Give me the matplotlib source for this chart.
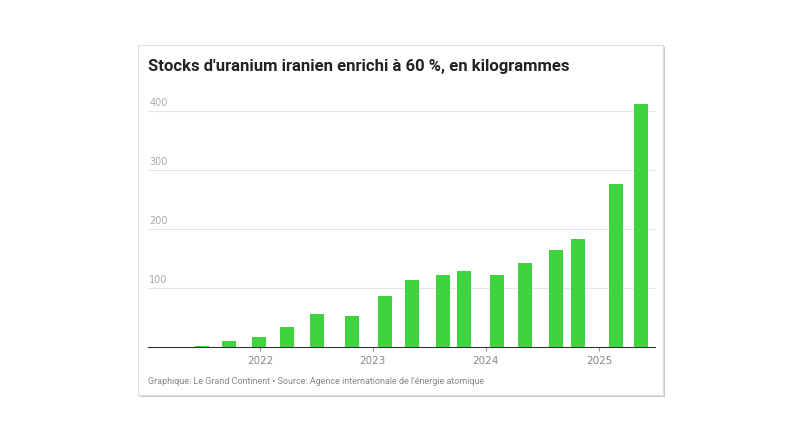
import matplotlib.pyplot as plt
import matplotlib.transforms as mt
from matplotlib.patches import FancyBboxPatch
import pandas as pd

dates = ["2021-06-28", "2021-09-24", "2021-12-28", "2022-03-30", "2022-07-05",
         "2022-10-24", "2023-02-10", "2023-05-08", "2023-08-15", "2023-10-24",
         "2024-02-06", "2024-05-08", "2024-08-15", "2024-10-24", "2025-02-24",
         "2025-05-17"]
stocks = [2, 10, 17, 34, 56, 52, 86, 113, 122, 129, 122, 142, 164, 183, 276, 412]
year_ticks = ["2022", "2023", "2024", "2025"]

x = pd.to_datetime(dates)

fig = plt.figure(figsize=(8, 4.45), dpi=100)
fig.patch.set_facecolor("white")

# card with shadow
shadow = FancyBboxPatch((140 / 800, 1 - 397 / 445), 525 / 800, 350 / 445,
                        boxstyle="square,pad=0", transform=fig.transFigure,
                        facecolor="#c8c8c8", edgecolor="none", zorder=0)
card = FancyBboxPatch((138 / 800, 1 - 395 / 445), 525 / 800, 350 / 445,
                      boxstyle="square,pad=0", transform=fig.transFigure,
                      facecolor="white", edgecolor="#dddddd", linewidth=0.8, zorder=1)
fig.patches.extend([shadow, card])

ax = fig.add_axes([148 / 800, 1 - 347 / 445, 507 / 800, 258 / 445])
ax.set_facecolor("none")
ax.set_zorder(2)
ax.bar(x, stocks, width=45, color="#3fd43f", zorder=3)

ax.set_xlim(pd.Timestamp("2021-01-04"), pd.Timestamp("2025-07-01"))
ax.set_ylim(0, 437)
ax.set_yticks([100, 200, 300, 400])
ax.set_xticks(pd.to_datetime([y + "-01-01" for y in year_ticks]))
ax.set_xticklabels(year_ticks)
ax.grid(axis="y", color="#e6e6e6", linewidth=0.8, zorder=0)
for s in ["top", "right", "left"]:
    ax.spines[s].set_visible(False)
ax.spines["bottom"].set_color("#333333")
ax.tick_params(axis="y", length=0, labelsize=7, labelcolor="#aaaaaa", pad=-1, direction="in")
for lbl in ax.get_yticklabels():
    lbl.set_horizontalalignment("left")
    lbl.set_verticalalignment("bottom")
    lbl.set_transform(lbl.get_transform() + mt.ScaledTranslation(0.0, 0.03, fig.dpi_scale_trans))
ax.tick_params(axis="x", length=3, color="#999999", labelsize=7.5, labelcolor="#888888")

fig.text(148 / 800, 1 - 66 / 445, "Stocks d'uranium iranien enrichi à 60 %, en kilogrammes",
         fontsize=12, fontweight="bold", color="#222222", family="Roboto",
         va="center", zorder=5)
fig.text(148 / 800, 1 - 382 / 445,
         "Graphique: Le Grand Continent • Source: Agence internationale de l'énergie atomique",
         fontsize=6.5, color="#888888", family="Roboto", va="center", zorder=5)

fig.savefig("out.png", dpi=100, facecolor="white")
